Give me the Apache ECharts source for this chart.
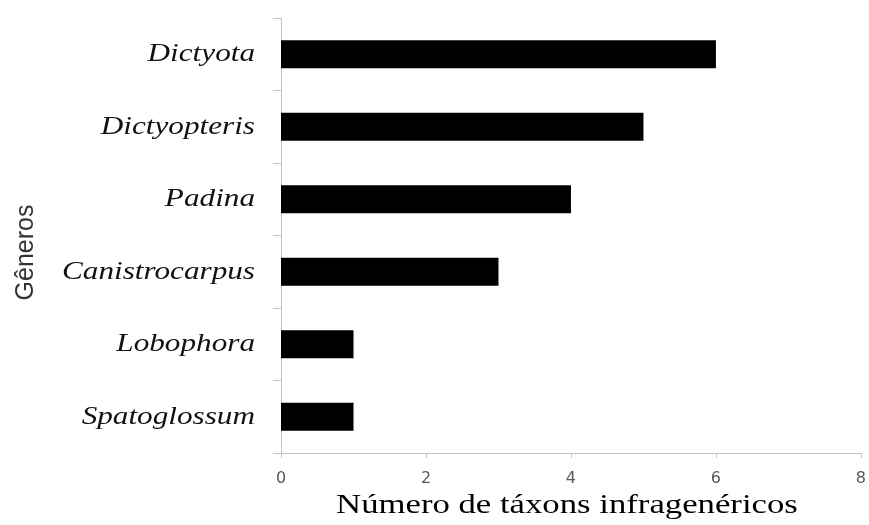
<!DOCTYPE html>
<html><head><meta charset="utf-8">
<script src="https://cdn.jsdelivr.net/npm/echarts@6/dist/echarts.min.js"></script>
<style>html,body{margin:0;padding:0;background:#fff}#c{width:869px;height:525px}</style>
</head><body><div id="c"></div>
<script>
const categories = ["Spatoglossum","Lobophora","Canistrocarpus","Padina","Dictyopteris","Dictyota"];
const values = [1,1,3,4,5,6];
const xTicks = [0,2,4,6,8];
const xAxisTitle = "Número de táxons infragenéricos";
const yAxisTitle = "Gêneros";

const chart = echarts.init(document.getElementById('c'));
chart.setOption({
  animation:false,
  grid:{left:281,top:18,right:8,bottom:72},
  xAxis:{type:'value',min:xTicks[0],max:xTicks[xTicks.length-1],interval:2,
    axisLine:{show:true,lineStyle:{color:'#c4c4c4',width:1}},
    axisTick:{show:true,length:5,lineStyle:{color:'#c4c4c4'}},
    splitLine:{show:false},
    axisLabel:{color:'#595959',fontFamily:'DejaVu Sans',fontSize:16,margin:18}
  },
  yAxis:{type:'category',data:categories,
    axisLine:{show:true,lineStyle:{color:'#c4c4c4',width:1}},
    axisTick:{show:true,length:8,lineStyle:{color:'#c4c4c4'}},
    axisLabel:{show:false}
  },
  series:[{type:'bar',data:values,barWidth:28,itemStyle:{color:'#000'}}]
});

const x0 = chart.convertToPixel({xAxisIndex:0}, xTicks[0]);
const xEnd = chart.convertToPixel({xAxisIndex:0}, xTicks[xTicks.length-1]);
const yTop = chart.convertToPixel({yAxisIndex:0}, categories[categories.length-1]);
const yBot = chart.convertToPixel({yAxisIndex:0}, categories[0]);
const graphics = categories.map(c => ({
  type:'text', x: x0 - 26, y: chart.convertToPixel({yAxisIndex:0}, c), scaleX:1.2,
  style:{text:c, fontFamily:'Liberation Serif', fontStyle:'italic', fontSize:26, fill:'#111',
    align:'right', verticalAlign:'middle'}
}));
graphics.push({type:'text', x: (x0 + xEnd)/2 - 4, y: 506, scaleX:1.24,
  style:{text:xAxisTitle, fontFamily:'Liberation Serif', fontSize:28, fill:'#000',
    align:'center', verticalAlign:'middle'}});
graphics.push({type:'text', x: 26, y: (yTop + yBot)/2 + 17, rotation:Math.PI/2,
  style:{text:yAxisTitle, fontFamily:'Liberation Sans', fontSize:25, fill:'#333',
    align:'center', verticalAlign:'middle'}});
chart.setOption({graphic:graphics});
</script></body></html>
